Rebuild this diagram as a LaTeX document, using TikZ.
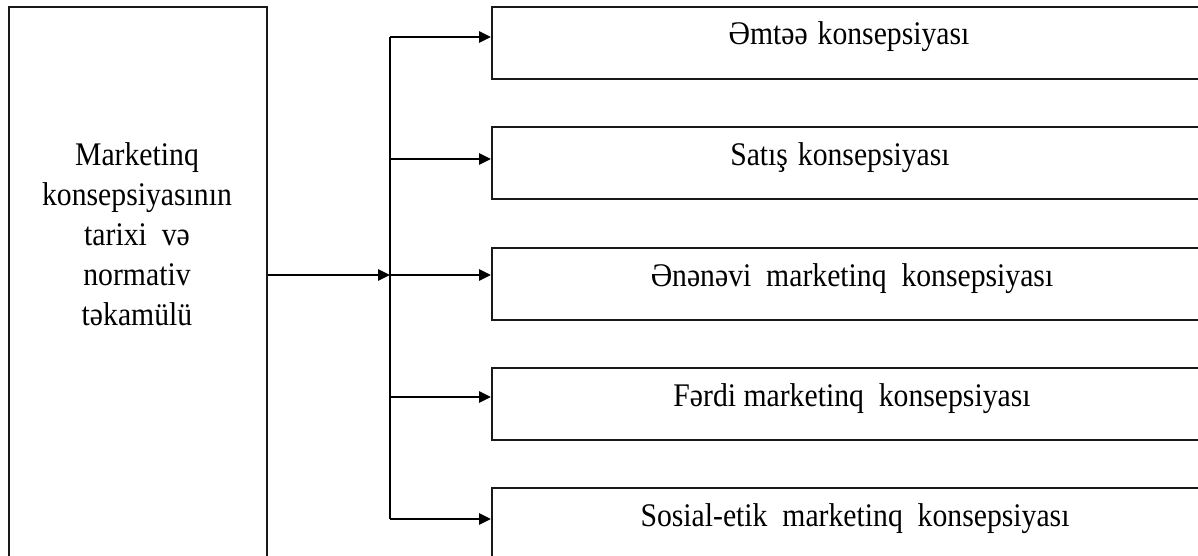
\documentclass[tikz,border=0pt]{standalone}
\usepackage{fontspec}
\setmainfont{Liberation Serif}[FakeStretch=0.9]
\usetikzlibrary{arrows.meta}
\begin{document}
\begin{tikzpicture}[x=0.5pt,y=-0.5pt,
  box/.style={draw=black!90,line width=1.1pt,minimum width=359pt,minimum height=36pt,inner sep=0pt,anchor=north west},
  bigbox/.style={draw=black!90,line width=1.2pt,minimum width=129pt,minimum height=300pt,inner sep=0pt,anchor=north west},
  txt/.style={font=\fontsize{16.5}{20}\selectfont,inner sep=0pt,anchor=base},
  arr/.style={line width=1.4pt,-{Triangle[length=6pt,width=5.5pt]}},
  bus/.style={line width=1.4pt}]
\clip (0,0) rectangle (1198,556);
\node[bigbox] (L) at (8,6) {};
\node[txt,align=center,anchor=base] (Lt) at (137,325) {Marketinq\\konsepsiyasının\\tarixi\ \ və\\normativ\\təkamülü};
\node[box] (b1) at (491,6) {};
\node[box] (b2) at (491,126) {};
\node[box] (b3) at (491,247) {};
\node[box] (b4) at (491,367) {};
\node[box] (b5) at (491,487) {};
\node[txt] (t1) at (849,45) {Əmtəə\hspace{0.3em}konsepsiyası};
\node[txt] (t2) at (840,165) {Satış\hspace{0.3em}konsepsiyası};
\node[txt] (t3) at (852,286) {Ənənəvi\hspace{0.45em}marketinq\hspace{0.45em}konsepsiyası};
\node[txt] (t4) at (852,406) {Fərdi marketinq\hspace{0.45em}konsepsiyası};
\node[txt] (t5) at (855,526) {Sosial-etik\hspace{0.45em}marketinq\hspace{0.45em}konsepsiyası};
\coordinate (j1) at (390,37);
\coordinate (j2) at (390,159);
\coordinate (jm) at (390,275);
\coordinate (j4) at (390,397);
\coordinate (j5) at (390,519);
\draw[bus] (j1) -- (j5);
\draw[arr] (L.east |- jm) -- (jm);
\draw[arr] (j1) -- (j1 -| b1.west);
\draw[arr] (j2) -- (j2 -| b2.west);
\draw[arr] (jm) -- (jm -| b3.west);
\draw[arr] (j4) -- (j4 -| b4.west);
\draw[arr] (j5) -- (j5 -| b5.west);
\end{tikzpicture}
\end{document}
